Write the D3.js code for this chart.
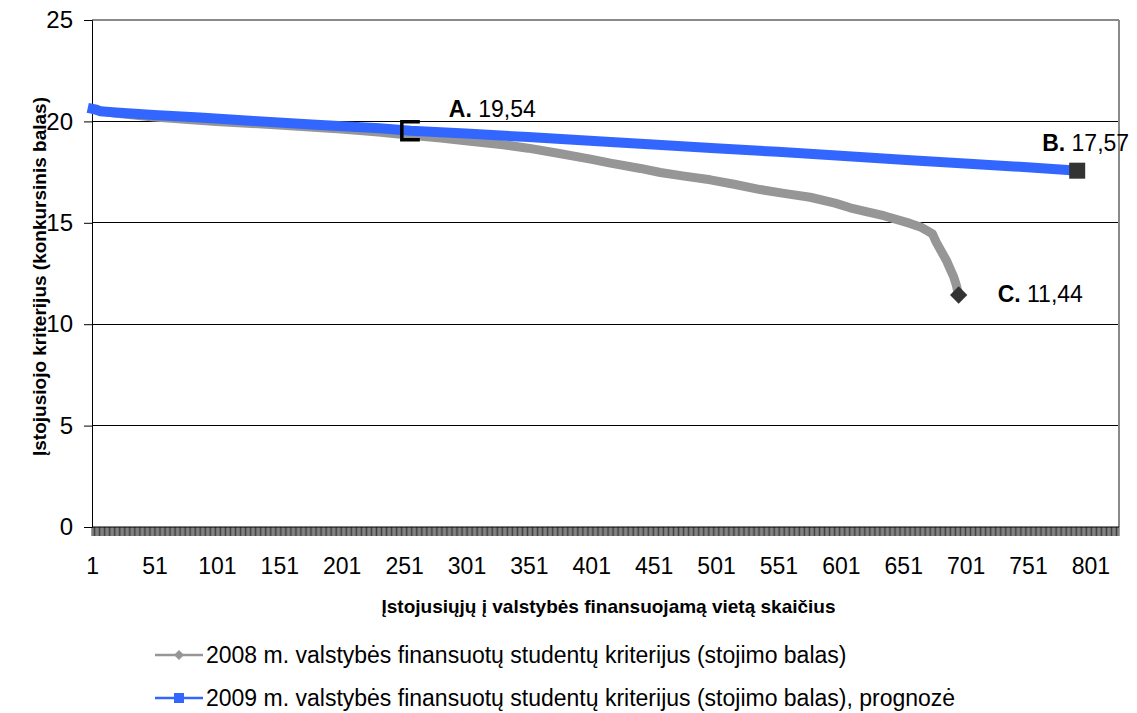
<!DOCTYPE html>
<html><head><meta charset="utf-8">
<script src="https://cdn.jsdelivr.net/npm/d3@7/dist/d3.min.js"></script>
<style>body{margin:0;background:#fff}svg{display:block;font-family:"Liberation Sans",Arial,sans-serif}</style>
</head><body><svg id="c" width="1137" height="713"></svg>
<script>
const categoryCount = 823;
const xTickLabels = [1,51,101,151,201,251,301,351,401,451,501,551,601,651,701,751,801];
const yTickLabels = [0,5,10,15,20,25];

const series2008Idx = [1,20,50,100,150,200,230,256,280,300,330,350,375,400,416,440,456,475,496,515,536,555,576,596,608,620,635,656,665,670,674,677,681,685,688,691,693,695];
const series2008Val = [20.58,20.40,20.22,20.0,19.82,19.62,19.48,19.32,19.18,19.05,18.85,18.68,18.42,18.14,17.94,17.68,17.48,17.3,17.12,16.9,16.64,16.45,16.26,15.97,15.74,15.56,15.35,14.97,14.78,14.6,14.45,14.05,13.6,13.17,12.75,12.34,11.95,11.44];

const series2009Idx = [1,4,7,20,50,87,130,180,231,256,300,350,416,450,500,550,616,650,700,750,790];
const series2009Val = [20.62,20.58,20.50,20.44,20.32,20.19,20.02,19.84,19.66,19.54,19.40,19.23,18.98,18.86,18.68,18.50,18.24,18.11,17.92,17.74,17.57];

const pointA = {i:256, v:19.54, label:"A.", text:" 19,54"};
const pointB = {i:790, v:17.57, label:"B.", text:" 17,57"};
const pointC = {i:695, v:11.44, label:"C.", text:" 11,44"};

const legendNames = ["2008 m. valstybės finansuotų studentų kriterijus (stojimo balas)",
  "2009 m. valstybės finansuotų studentų kriterijus (stojimo balas), prognozė"];
const yTitle = "Įstojusiojo kriterijus (konkursinis balas)";
const xTitle = "Įstojusiųjų į valstybės finansuojamą vietą skaičius";

const L=92, R=1119, T=20, B=527;
const FS=23;
const svg = d3.select("#c");
const cats = d3.range(1, categoryCount+1);
const x = d3.scaleBand().domain(cats).range([L,R]).padding(0);
const xc = i => x(i) + x.bandwidth()/2;
const y = d3.scaleLinear().domain([0,25]).range([B,T]);

// gridlines
svg.append("g").selectAll("line").data(yTickLabels.filter(v=>v>0 && v<25)).join("line")
  .attr("x1",L).attr("x2",R).attr("y1",d=>y(d)).attr("y2",d=>y(d))
  .attr("stroke","#000").attr("stroke-width",1).attr("shape-rendering","crispEdges");
// plot border top/right
svg.append("line").attr("x1",L).attr("x2",R).attr("y1",y(25)).attr("y2",y(25)).attr("stroke","#8a8a8a").attr("stroke-width",2);
svg.append("line").attr("x1",R).attr("x2",R).attr("y1",y(25)).attr("y2",B).attr("stroke","#8a8a8a").attr("stroke-width",2);

// y axis
const yAxis = d3.axisLeft(y).tickValues(yTickLabels).tickSize(8).tickPadding(11).tickFormat(d3.format("d"));
const gy = svg.append("g").attr("transform",`translate(${L},0)`).call(yAxis);
gy.select(".domain").attr("stroke","#000");
gy.selectAll("text").attr("font-size",24).attr("fill","#000").attr("font-family","Liberation Sans, Arial");

// x axis with a tick at every category boundary
const gx = svg.append("g");
gx.append("g").selectAll("line").data(d3.range(0, categoryCount+1)).join("line")
  .attr("x1",d=>L+d*x.bandwidth()).attr("x2",d=>L+d*x.bandwidth())
  .attr("y1",B).attr("y2",B+9).attr("stroke","#000").attr("stroke-width",0.75);
gx.append("line").attr("x1",L).attr("x2",R).attr("y1",B).attr("y2",B).attr("stroke","#000").attr("stroke-width",1);
gx.append("g").selectAll("text").data(xTickLabels).join("text")
  .attr("x",d=>xc(d)).attr("y",B+47).attr("text-anchor","middle")
  .attr("font-size",FS).text(d=>d);

// titles
svg.append("text").attr("transform",`translate(46,${(T+B)/2+3}) rotate(-90)`).attr("text-anchor","middle")
  .attr("font-weight","bold").attr("font-size",19).text(yTitle);
svg.append("text").attr("x",(L+R)/2+3).attr("y",613).attr("text-anchor","middle")
  .attr("font-weight","bold").attr("font-size",19).text(xTitle);

const line = d3.line().x(d=>xc(d[0])).y(d=>y(d[1]));
const d2008 = series2008Idx.map((i,k)=>[i,series2008Val[k]]);
const d2009 = series2009Idx.map((i,k)=>[i,series2009Val[k]]);
svg.append("path").attr("d",line(d2008)).attr("fill","none").attr("stroke","#969696")
  .attr("stroke-width",9).attr("stroke-linejoin","round");
svg.append("path").attr("d",line(d2009)).attr("fill","none").attr("stroke","#3366FF")
  .attr("stroke-width",10).attr("stroke-linejoin","round").attr("stroke-linecap","square");

// markers
const s=9;
svg.append("path").attr("d",`M${xc(pointA.i)+s},${y(pointA.v)-s}H${xc(pointA.i)-s}V${y(pointA.v)+s}H${xc(pointA.i)+s}`)
  .attr("fill","none").attr("stroke","#000").attr("stroke-width",3.5);
svg.append("rect").attr("x",xc(pointB.i)-8).attr("y",y(pointB.v)-8).attr("width",16).attr("height",16).attr("fill","#333");
svg.append("path").attr("d",d3.symbol(d3.symbolSquare, 150)())
  .attr("transform",`translate(${xc(pointC.i)},${y(pointC.v)}) rotate(45)`).attr("fill","#333");

// point labels
function lbl(p, dx, dy){
  const t = svg.append("text").attr("x",xc(p.i)+dx).attr("y",y(p.v)+dy).attr("font-size",FS);
  t.append("tspan").attr("font-weight","bold").text(p.label);
  t.append("tspan").text(p.text);
}
lbl(pointA, 38, -14);
lbl(pointB, -35, -20);
lbl(pointC, 39, 7);

// legend
const lg = svg.append("g");
const ly = [655, 698];
lg.append("line").attr("x1",155).attr("x2",203).attr("y1",ly[0]).attr("y2",ly[0]).attr("stroke","#969696").attr("stroke-width",2.5);
lg.append("path").attr("d",d3.symbol(d3.symbolSquare,50)()).attr("transform",`translate(179,${ly[0]}) rotate(45)`).attr("fill","#969696");
lg.append("line").attr("x1",155).attr("x2",203).attr("y1",ly[1]).attr("y2",ly[1]).attr("stroke","#3366FF").attr("stroke-width",2.5);
lg.append("rect").attr("x",174).attr("y",ly[1]-5).attr("width",10).attr("height",10).attr("fill","#3366FF");
lg.selectAll("text").data(legendNames).join("text").attr("x",206).attr("y",(d,k)=>ly[k]+8)
  .attr("font-size",FS).text(d=>d);
</script></body></html>
